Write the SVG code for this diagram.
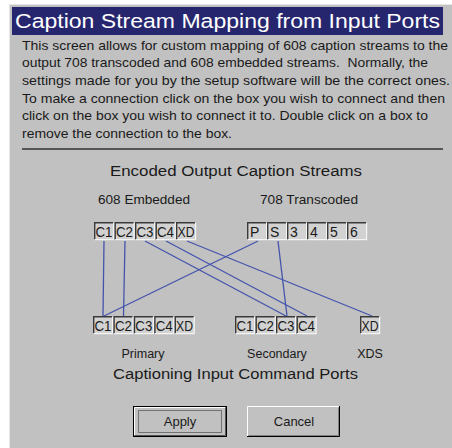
<svg xmlns="http://www.w3.org/2000/svg" width="452" height="448" viewBox="0 0 452 448">
<style>
  .t{font-family:"Liberation Sans",Arial,sans-serif;fill:#1a1a1a}
  .body{font-size:13px}
  .hd{font-size:15.5px}
  .sub{font-size:13px}
  .lbl{font-size:12.5px;text-anchor:middle}
  .cl{font-size:14px;text-anchor:middle}
  .bt{font-size:13px;text-anchor:middle}
  .cw{fill:#d2d2d2}
  .dk{fill:none;stroke:#3a3a3a;stroke-width:1.4}
  .lt{fill:none;stroke:#f4f4f4;stroke-width:1.2}
  .ln{stroke:#4454ac;stroke-width:1.3;fill:none}
</style>
<defs>
  <g id="cell">
    <rect class="cw" x="0" y="0" width="20" height="18"/>
    <path class="dk" d="M0.7,17.4V0.7H19.4"/>
    <path class="lt" d="M0.6,17.6H19.6V0.6"/>
  </g>
</defs>
<rect x="0" y="0" width="452" height="448" fill="#ffffff"/>
<rect x="9.5" y="4.5" width="443" height="444" fill="#c1c1c1" stroke="#e6e6e6" stroke-width="1"/>
<rect x="12" y="7" width="431" height="28" fill="#26266f"/>
<text x="15" y="28" font-family="'Liberation Sans',Arial,sans-serif" font-size="20.5" fill="#ffffff" textLength="425" lengthAdjust="spacingAndGlyphs">Caption Stream Mapping from Input Ports</text>
<g class="t body">
  <text x="22" y="50" textLength="426" lengthAdjust="spacingAndGlyphs">This screen allows for custom mapping of 608 caption streams to the</text>
  <text x="22" y="67" textLength="406" lengthAdjust="spacingAndGlyphs" xml:space="preserve">output 708 transcoded and 608 embedded streams.  Normally, the</text>
  <text x="22" y="85" textLength="428" lengthAdjust="spacingAndGlyphs">settings made for you by the setup software will be the correct ones.</text>
  <text x="22" y="103" textLength="423" lengthAdjust="spacingAndGlyphs">To make a connection click on the box you wish to connect and then</text>
  <text x="22" y="120" textLength="406" lengthAdjust="spacingAndGlyphs">click on the box you wish to connect it to. Double click on a box to</text>
  <text x="22" y="138" textLength="210" lengthAdjust="spacingAndGlyphs">remove the connection to the box.</text>
</g>
<rect x="22" y="148" width="421" height="2" fill="#555555"/>
<text class="t hd" x="110" y="176" textLength="252" lengthAdjust="spacingAndGlyphs">Encoded Output Caption Streams</text>
<text class="t sub" x="98" y="204" textLength="92" lengthAdjust="spacingAndGlyphs">608 Embedded</text>
<text class="t sub" x="260" y="204" textLength="98" lengthAdjust="spacingAndGlyphs">708 Transcoded</text>

<g id="connectors">
  <line class="ln" x1="104" y1="241" x2="103" y2="316"/>
  <line class="ln" x1="125" y1="241" x2="123.5" y2="316"/>
  <line class="ln" x1="145" y1="241" x2="286" y2="316"/>
  <line class="ln" x1="166" y1="241" x2="307" y2="316"/>
  <line class="ln" x1="187" y1="241" x2="372" y2="316"/>
  <line class="ln" x1="258" y1="241" x2="104" y2="316"/>
  <line class="ln" x1="278" y1="241" x2="287" y2="316"/>
</g>

<g id="out608">
  <g id="out608-c1"><use href="#cell" x="94" y="222"/><text class="t cl" x="104" y="237" textLength="17" lengthAdjust="spacingAndGlyphs">C1</text></g>
  <g id="out608-c2"><use href="#cell" x="114.5" y="222"/><text class="t cl" x="124.5" y="237" textLength="17" lengthAdjust="spacingAndGlyphs">C2</text></g>
  <g id="out608-c3"><use href="#cell" x="135" y="222"/><text class="t cl" x="145" y="237" textLength="17" lengthAdjust="spacingAndGlyphs">C3</text></g>
  <g id="out608-c4"><use href="#cell" x="155.5" y="222"/><text class="t cl" x="165.5" y="237" textLength="17" lengthAdjust="spacingAndGlyphs">C4</text></g>
  <g id="out608-xd"><use href="#cell" x="176" y="222"/><text class="t cl" x="186" y="237" textLength="17" lengthAdjust="spacingAndGlyphs">XD</text></g>
</g>
<g id="out708">
  <g id="out708-p"><use href="#cell" x="247" y="222"/><text class="t" font-size="14" x="250" y="237">P</text></g>
  <g id="out708-s"><use href="#cell" x="267" y="222"/><text class="t" font-size="14" x="270" y="237">S</text></g>
  <g id="out708-3"><use href="#cell" x="287" y="222"/><text class="t" font-size="14" x="290" y="237">3</text></g>
  <g id="out708-4"><use href="#cell" x="307" y="222"/><text class="t" font-size="14" x="310" y="237">4</text></g>
  <g id="out708-5"><use href="#cell" x="327" y="222"/><text class="t" font-size="14" x="330" y="237">5</text></g>
  <g id="out708-6"><use href="#cell" x="347" y="222"/><text class="t" font-size="14" x="350" y="237">6</text></g>
</g>

<g id="primary">
  <g id="pri-c1"><use href="#cell" x="93" y="316"/><text class="t cl" x="103" y="331" textLength="17" lengthAdjust="spacingAndGlyphs">C1</text></g>
  <g id="pri-c2"><use href="#cell" x="113.4" y="316"/><text class="t cl" x="123.4" y="331" textLength="17" lengthAdjust="spacingAndGlyphs">C2</text></g>
  <g id="pri-c3"><use href="#cell" x="133.8" y="316"/><text class="t cl" x="143.8" y="331" textLength="17" lengthAdjust="spacingAndGlyphs">C3</text></g>
  <g id="pri-c4"><use href="#cell" x="154.2" y="316"/><text class="t cl" x="164.2" y="331" textLength="17" lengthAdjust="spacingAndGlyphs">C4</text></g>
  <g id="pri-xd"><use href="#cell" x="174.6" y="316"/><text class="t cl" x="184.6" y="331" textLength="17" lengthAdjust="spacingAndGlyphs">XD</text></g>
  <text class="t lbl" x="143" y="358">Primary</text>
</g>
<g id="secondary">
  <g id="sec-c1"><use href="#cell" x="235" y="316"/><text class="t cl" x="245" y="331" textLength="17" lengthAdjust="spacingAndGlyphs">C1</text></g>
  <g id="sec-c2"><use href="#cell" x="255.5" y="316"/><text class="t cl" x="265.5" y="331" textLength="17" lengthAdjust="spacingAndGlyphs">C2</text></g>
  <g id="sec-c3"><use href="#cell" x="276" y="316"/><text class="t cl" x="286" y="331" textLength="17" lengthAdjust="spacingAndGlyphs">C3</text></g>
  <g id="sec-c4"><use href="#cell" x="296.5" y="316"/><text class="t cl" x="306.5" y="331" textLength="17" lengthAdjust="spacingAndGlyphs">C4</text></g>
  <text class="t lbl" x="277" y="358">Secondary</text>
</g>
<g id="xds">
  <g id="xds-xd"><use href="#cell" x="360" y="316"/><text class="t cl" x="370" y="331" textLength="17" lengthAdjust="spacingAndGlyphs">XD</text></g>
  <text class="t lbl" x="370" y="358">XDS</text>
</g>
<text class="t hd" x="113" y="379" textLength="245" lengthAdjust="spacingAndGlyphs">Captioning Input Command Ports</text>

<g id="apply">
  <rect x="133.5" y="406.5" width="93" height="30" fill="#c1c1c1" stroke="#000000" stroke-width="1"/>
  <path d="M134.5,435V407.5H225" fill="none" stroke="#ffffff" stroke-width="1"/>
  <path d="M134.5,435.5H225.5V407.5" fill="none" stroke="#555555" stroke-width="1"/>
  <rect x="138.5" y="410.5" width="83" height="22" fill="none" stroke="#222222" stroke-width="1" stroke-dasharray="1,1"/>
  <text class="t bt" x="180" y="426">Apply</text>
</g>
<g id="cancel">
  <path d="M247.5,437V406.5H340" fill="none" stroke="#ffffff" stroke-width="1"/>
  <path d="M247,436.5H339.5V406" fill="none" stroke="#000000" stroke-width="1"/>
  <path d="M248.5,435.5H338.5V407.5" fill="none" stroke="#808080" stroke-width="1"/>
  <text class="t bt" x="294" y="426">Cancel</text>
</g>
</svg>
